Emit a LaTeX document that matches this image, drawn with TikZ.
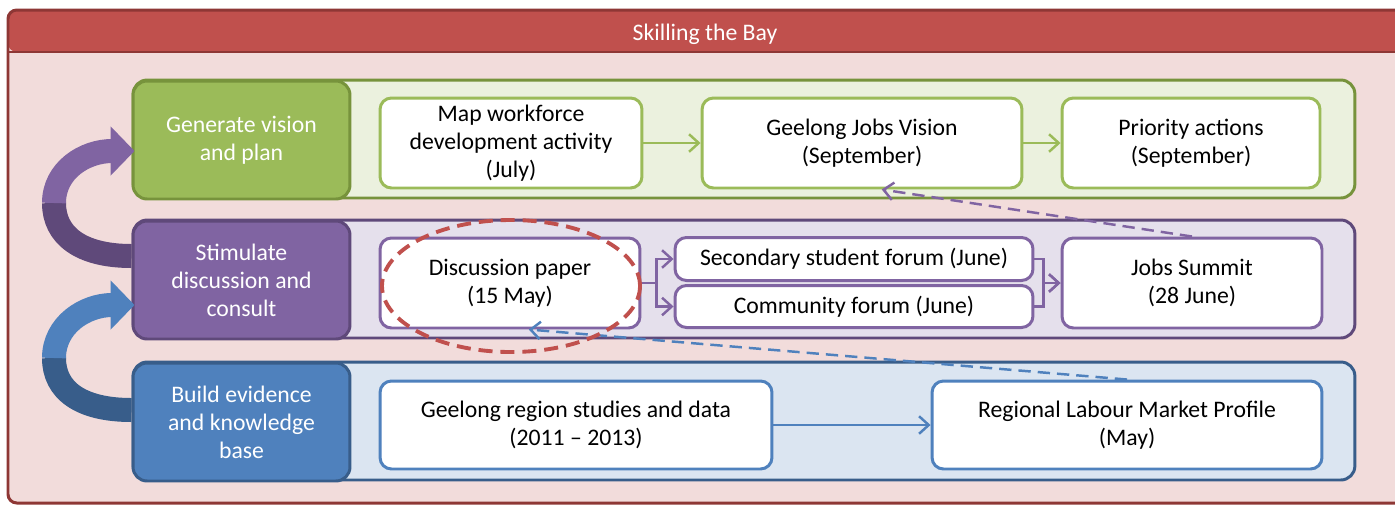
\documentclass[tikz,border=0pt]{standalone}
\usepackage{fontspec}
\setmainfont{Carlito}
\usetikzlibrary{arrows.meta}
\definecolor{frameRed}{HTML}{C0504D}
\definecolor{frameDark}{HTML}{8E3735}
\definecolor{frameBody}{HTML}{F2DCDB}
\definecolor{greenMain}{HTML}{9BBB59}
\definecolor{greenDark}{HTML}{77933C}
\definecolor{greenLight}{HTML}{EBF1DE}
\definecolor{purpleMain}{HTML}{8064A2}
\definecolor{purpleDark}{HTML}{5F497A}
\definecolor{purpleLight}{HTML}{E5E0EC}
\definecolor{blueMain}{HTML}{4F81BD}
\definecolor{blueDark}{HTML}{385D8A}
\definecolor{blueLight}{HTML}{DBE5F1}
\begin{document}
\begin{tikzpicture}[x=0.02cm,y=-0.02cm]
  \tikzstyle{every node}=[font=\fontsize{13.5}{16}\selectfont]
  \tikzstyle{lane}=[draw,rounded corners=8pt,line width=1.7pt,minimum width=24.44cm,minimum height=2.36cm]
  \tikzstyle{stage}=[lane,minimum width=4.34cm,text=white,align=center,inner sep=2pt]
  \tikzstyle{task}=[draw,fill=white,rounded corners=6.5pt,line width=1.7pt,align=center,inner sep=2pt,minimum height=1.8cm]
  \tikzstyle{link}=[line width=1.4pt,-{Straight Barb[length=5.5pt,width=10pt]}]
  \tikzstyle{feedback}=[link,dash pattern=on 7pt off 4pt]
  \tikzstyle{cyclearrow}=[line width=0.48cm]
  \useasboundingbox (0,0) rectangle (1395,505);
  % frame and title
  \fill[frameBody,rounded corners=5pt] (8,10) rectangle (1420,503);
  \fill[frameRed,rounded corners=5pt] (8,52) -- (8,10) -- (1420,10) -- (1420,52) -- cycle;
  \draw[frameDark,line width=1.4pt] (8,52) -- (1420,52);
  \draw[frameDark,line width=1.7pt,rounded corners=5pt] (8,10) rectangle (1420,503);
  \node[text=white] (title) at (705,34) {Skilling the Bay};
  % lanes
  \node[lane,draw=greenDark,fill=greenLight] (genlane) at (744,139) {};
  \node[stage,draw=greenDark,fill=greenMain] (genstage) at (241.5,140) {Generate vision\\and plan};
  \node[lane,draw=purpleDark,fill=purpleLight] (stimlane) at (744,279) {};
  \node[stage,draw=purpleDark,fill=purpleMain] (stimstage) at (241.5,280) {Stimulate\\discussion and\\consult};
  \node[lane,draw=blueDark,fill=blueLight] (buildlane) at (744,421) {};
  \node[stage,draw=blueDark,fill=blueMain] (buildstage) at (241.5,422) {Build evidence\\and knowledge\\base};
  % tasks
  \node[task,draw=greenMain,minimum width=5.24cm] (mapping) at (511,143) {Map workforce\\development activity\\(July)};
  \node[task,draw=greenMain,minimum width=6.4cm] (jobsvision) at (862,143) {Geelong Jobs Vision\\(September)};
  \node[task,draw=greenMain,minimum width=5.16cm] (priority) at (1191,143) {Priority actions\\(September)};
  \node[task,draw=purpleMain,minimum width=5.2cm] (paper) at (510,283) {Discussion paper\\(15 May)};
  \node[task,draw=purpleMain,minimum width=7.16cm,minimum height=0.86cm] (student) at (854,259) {Secondary student forum (June)};
  \node[task,draw=purpleMain,minimum width=7.16cm,minimum height=0.84cm] (community) at (854,306.5) {Community forum (June)};
  \node[task,draw=purpleMain,minimum width=5.2cm] (summit) at (1192,283) {Jobs Summit\\(28 June)};
  \node[task,draw=blueMain,minimum width=7.84cm,minimum height=1.76cm] (studies) at (576,425) {Geelong region studies and data\\(2011 -- 2013)};
  \node[task,draw=blueMain,minimum width=7.8cm,minimum height=1.76cm] (profile) at (1127,425) {Regional Labour Market Profile\\(May)};
  % connectors
  \draw[link,draw=greenMain] (mapping) -- (jobsvision);
  \draw[link,draw=greenMain] (jobsvision) -- (priority);
  \draw[link,draw=purpleMain] (paper.east) -- ++(15,0) |- (student.west);
  \draw[link,draw=purpleMain] (paper.east) -- ++(15,0) |- (community.west);
  \draw[link,draw=purpleMain] (student.east) -- ++(9,0) |- (summit.west);
  \draw[link,draw=purpleMain] (community.east) -- ++(9,0) |- (summit.west);
  \draw[link,draw=blueMain] (studies) -- (profile);
  \draw[feedback,draw=purpleMain] (summit.north) -- (jobsvision.-67);
  \draw[feedback,draw=blueMain] (profile.north) -- (paper.-68);
  \draw[frameRed,line width=2.2pt,dash pattern=on 8pt off 4.5pt] ([shift={(1,3)}]paper.center) ellipse [x radius=129,y radius=66];
  % cycle arrows
  \draw[cyclearrow,draw=purpleDark] ([shift={(0,-24)}]stimstage.west) .. controls (80,256) and (54,235) .. (54,203);
  \draw[cyclearrow,draw=purpleMain,-{Triangle[length=0.48cm,width=0.96cm]}] (54,203) .. controls (54,170) and (85,151) .. ([shift={(3,11)}]genstage.west);
  \draw[cyclearrow,draw=blueDark] ([shift={(0,-12)}]buildstage.west) .. controls (80,410) and (54,390) .. (54,358);
  \draw[cyclearrow,draw=blueMain,-{Triangle[length=0.48cm,width=0.96cm]}] (54,358) .. controls (54,325) and (85,305) .. ([shift={(3,25)}]stimstage.west);
\end{tikzpicture}
\end{document}
